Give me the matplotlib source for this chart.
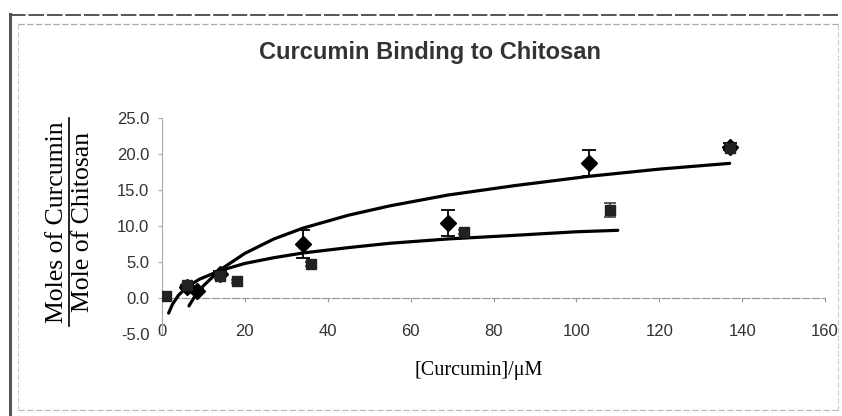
import matplotlib
matplotlib.use("Agg")
import matplotlib.pyplot as plt
from matplotlib.lines import Line2D
import numpy as np

# ---- data ----
diamond_x = [6, 8.5, 14, 34, 69, 103, 137]
diamond_y = [1.5, 1.0, 3.4, 7.5, 10.4, 18.7, 21.0]
diamond_err = [0.3, 0.3, 0.4, 1.9, 1.8, 1.8, 0.5]

square_x = [1, 6, 14, 18, 36, 73, 108, 137]
square_y = [0.3, 1.8, 3.0, 2.3, 4.7, 9.2, 12.2, 20.8]
square_err = [0.2, 0.2, 0.3, 0.2, 0.3, 0.3, 1.0, 0.4]

# trendlines
upper_x = [6.5, 8, 10, 14, 20, 27, 34, 45, 55, 69, 85, 103, 120, 137]
upper_y = [-1.1, 0.3, 1.7, 3.9, 6.2, 8.2, 9.7, 11.5, 12.8, 14.3, 15.6, 16.9, 17.9, 18.7]
lower_x = [1.6, 2.5, 4, 6, 9, 14, 20, 27, 34, 45, 55, 69, 85, 100, 110]
lower_y = [-2.1, -0.9, 0.4, 1.5, 2.6, 3.8, 4.8, 5.6, 6.25, 7.0, 7.6, 8.2, 8.7, 9.2, 9.4]

x_ticks = [0, 20, 40, 60, 80, 100, 120, 140, 160]
y_ticks = [-5, 0, 5, 10, 15, 20, 25]

W, H = 842, 416
fig = plt.figure(figsize=(W / 100, H / 100), dpi=100)
fig.patch.set_facecolor("white")

left, right = 162 / W, 825 / W
top, bottom = 1 - 118 / H, 1 - 334 / H
ax = fig.add_axes([left, bottom, right - left, top - bottom])
ax.set_xlim(0, 160)
ax.set_ylim(-5, 25)
ax.set_facecolor("white")

# curves
ax.plot(upper_x, upper_y, color="black", lw=2.3, solid_capstyle="round", zorder=3)
ax.plot(lower_x, lower_y, color="black", lw=2.3, solid_capstyle="round", zorder=3)

# markers with error bars
ax.errorbar(diamond_x, diamond_y, yerr=diamond_err, fmt="D", ms=8, color="black",
            ecolor="black", elinewidth=1.3, capsize=5, capthick=1.3, zorder=4)
ax.errorbar(square_x, square_y, yerr=square_err, fmt="s", ms=7.5, color="#222222",
            ecolor="#333333", elinewidth=1.1, capsize=4, capthick=1.1, zorder=4)

# axes styling
for s in ["top", "right"]:
    ax.spines[s].set_visible(False)
ax.spines["left"].set_color("#aaaaaa")
ax.spines["left"].set_linewidth(0.8)
ax.spines["bottom"].set_position(("data", 0))
ax.spines["bottom"].set_color("#999999")
ax.spines["bottom"].set_linestyle((0, (6, 2)))
ax.spines["bottom"].set_linewidth(0.9)

ax.set_xticks(x_ticks)
ax.set_xticklabels([str(v) for v in x_ticks])
ax.set_yticks(y_ticks)
ax.set_yticklabels([f"{v:.1f}" for v in y_ticks])
ax.tick_params(axis="x", direction="out", length=3, color="#999999", pad=16,
               labelsize=12, labelcolor="#333333")
ax.tick_params(axis="y", direction="out", length=3, color="#aaaaaa", pad=6,
               labelsize=12, labelcolor="#333333")
for lab in ax.get_xticklabels() + ax.get_yticklabels():
    lab.set_family(["Liberation Sans", "DejaVu Sans"])

# title
fig.text(430 / W, 1 - 52 / H, "Curcumin Binding to Chitosan", ha="center", va="center",
         fontsize=17, fontweight="bold", color="#333333",
         family=["Liberation Sans", "DejaVu Sans"])

# y label as fraction
fig.text(57 / W, 1 - 222 / H, "Moles of Curcumin", rotation=90, ha="center", va="center",
         fontsize=18.5, color="black", family=["Liberation Serif", "DejaVu Serif"])
fig.text(83 / W, 1 - 222 / H, "Mole of Chitosan", rotation=90, ha="center", va="center",
         fontsize=18.5, color="black", family=["Liberation Serif", "DejaVu Serif"])
fig.add_artist(Line2D([69 / W, 69 / W], [1 - 118 / H, 1 - 326 / H], color="black", lw=1.2))

# x label
fig.text(479 / W, 1 - 370 / H, "[Curcumin]/\u03bcM", ha="center", va="center",
         fontsize=14.5, color="black", family=["Liberation Serif", "DejaVu Serif"])

# chart area border (scanned look)
fig.add_artist(Line2D([10 / W, 10 / W], [1 - 14 / H, 1 - 414 / H], color="#555555", lw=2.2))
fig.add_artist(Line2D([10 / W, 838 / W], [1 - 15 / H, 1 - 15 / H], color="#555555", lw=1.4,
                      ls=(0, (8, 1.5))))
fig.add_artist(Line2D([18 / W, 838 / W], [1 - 24 / H, 1 - 24 / H], color="#aaaaaa", lw=0.9,
                      ls=(0, (5, 2))))
fig.add_artist(Line2D([18 / W, 18 / W], [1 - 24 / H, 1 - 410 / H], color="#cccccc", lw=0.8,
                      ls=(0, (5, 2))))
fig.add_artist(Line2D([18 / W, 838 / W], [1 - 410 / H, 1 - 410 / H], color="#bbbbbb", lw=0.9,
                      ls=(0, (5, 2))))
fig.add_artist(Line2D([838 / W, 838 / W], [1 - 24 / H, 1 - 410 / H], color="#cccccc", lw=0.8,
                      ls=(0, (5, 2))))

fig.savefig("out.png", dpi=100)
